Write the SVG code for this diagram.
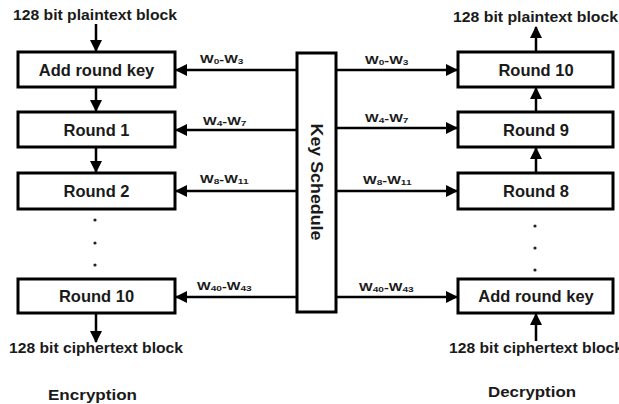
<svg xmlns="http://www.w3.org/2000/svg" width="619" height="404" viewBox="0 0 619 404">
<style>
.box{fill:#fff;stroke:#000;stroke-width:3}
.lbl{font-family:"Liberation Sans",Arial,sans-serif;font-weight:bold;font-size:16.5px;fill:#1a1a1a;text-anchor:middle}
.io{font-family:"Liberation Sans",Arial,sans-serif;font-weight:bold;font-size:15px;fill:#1a1a1a}
.w{font-family:"Liberation Sans",Arial,sans-serif;font-weight:bold;font-size:10px;fill:#1a1a1a}
.s{font-size:7px}
.ln{stroke:#000;stroke-width:2.5;fill:none}
.dot{fill:#222}
</style>
<defs>
<marker id="ah" markerUnits="userSpaceOnUse" markerWidth="12" markerHeight="12" refX="11" refY="6" orient="auto">
<path d="M0,0 L12,6 L0,12 z" fill="#000"/>
</marker>
</defs>
<rect width="619" height="404" fill="#fff"/>

<g id="connectors">
<!-- encryption vertical -->
<line class="ln" x1="96" y1="24" x2="96" y2="51" marker-end="url(#ah)"/>
<line class="ln" x1="96" y1="87" x2="96" y2="111" marker-end="url(#ah)"/>
<line class="ln" x1="96" y1="147" x2="96" y2="172" marker-end="url(#ah)"/>
<line class="ln" x1="96" y1="313" x2="96" y2="342" marker-end="url(#ah)"/>
<!-- decryption vertical -->
<line class="ln" x1="536" y1="52" x2="536" y2="27" marker-end="url(#ah)"/>
<line class="ln" x1="536" y1="112" x2="536" y2="88" marker-end="url(#ah)"/>
<line class="ln" x1="536" y1="173" x2="536" y2="148" marker-end="url(#ah)"/>
<line class="ln" x1="536" y1="341" x2="536" y2="314" marker-end="url(#ah)"/>
<!-- key schedule to encryption -->
<line class="ln" x1="297" y1="70" x2="176" y2="70" marker-end="url(#ah)"/>
<line class="ln" x1="297" y1="130" x2="176" y2="130" marker-end="url(#ah)"/>
<line class="ln" x1="297" y1="191" x2="176" y2="191" marker-end="url(#ah)"/>
<line class="ln" x1="297" y1="297" x2="176" y2="297" marker-end="url(#ah)"/>
<!-- key schedule to decryption -->
<line class="ln" x1="336" y1="70" x2="457" y2="70" marker-end="url(#ah)"/>
<line class="ln" x1="336" y1="128" x2="457" y2="128" marker-end="url(#ah)"/>
<line class="ln" x1="336" y1="191" x2="457" y2="191" marker-end="url(#ah)"/>
<line class="ln" x1="336" y1="297" x2="457" y2="297" marker-end="url(#ah)"/>
<!-- key labels left -->
<text class="w" transform="translate(200,63) scale(1.45,1)">W<tspan class="s" dy="1">0</tspan><tspan dy="-1">-W</tspan><tspan class="s" dy="1">3</tspan></text>
<text class="w" transform="translate(203,125) scale(1.45,1)">W<tspan class="s" dy="1">4</tspan><tspan dy="-1">-W</tspan><tspan class="s" dy="1">7</tspan></text>
<text class="w" transform="translate(200,183) scale(1.45,1)">W<tspan class="s" dy="1">8</tspan><tspan dy="-1">-W</tspan><tspan class="s" dy="1">11</tspan></text>
<text class="w" transform="translate(197,290) scale(1.45,1)">W<tspan class="s" dy="1">40</tspan><tspan dy="-1">-W</tspan><tspan class="s" dy="1">43</tspan></text>
<!-- key labels right -->
<text class="w" transform="translate(365,64) scale(1.45,1)">W<tspan class="s" dy="1">0</tspan><tspan dy="-1">-W</tspan><tspan class="s" dy="1">3</tspan></text>
<text class="w" transform="translate(365,122) scale(1.45,1)">W<tspan class="s" dy="1">4</tspan><tspan dy="-1">-W</tspan><tspan class="s" dy="1">7</tspan></text>
<text class="w" transform="translate(363,184) scale(1.45,1)">W<tspan class="s" dy="1">8</tspan><tspan dy="-1">-W</tspan><tspan class="s" dy="1">11</tspan></text>
<text class="w" transform="translate(359,291) scale(1.45,1)">W<tspan class="s" dy="1">40</tspan><tspan dy="-1">-W</tspan><tspan class="s" dy="1">43</tspan></text>
</g>

<g id="enc-input"><text class="io" x="13" y="20" textLength="164" lengthAdjust="spacingAndGlyphs">128 bit plaintext block</text></g>
<g id="enc-add-round-key"><rect class="box" x="18" y="52" width="157" height="35"/><text class="lbl" x="96.5" y="75.5">Add round key</text></g>
<g id="enc-round1"><rect class="box" x="18" y="112" width="157" height="35"/><text class="lbl" x="96.5" y="135.5">Round 1</text></g>
<g id="enc-round2"><rect class="box" x="18" y="173" width="157" height="36"/><text class="lbl" x="96.5" y="197">Round 2</text></g>
<g id="enc-dots"><circle class="dot" cx="95" cy="220" r="1.6"/><circle class="dot" cx="95" cy="243" r="1.6"/><circle class="dot" cx="95" cy="265" r="1.6"/></g>
<g id="enc-round10"><rect class="box" x="18" y="279" width="157" height="34"/><text class="lbl" x="96.5" y="302">Round 10</text></g>
<g id="enc-output"><text class="io" x="9" y="353" textLength="174" lengthAdjust="spacingAndGlyphs">128 bit ciphertext block</text></g>
<g id="enc-title"><text class="io" x="48" y="400" font-size="16" textLength="89" lengthAdjust="spacingAndGlyphs">Encryption</text></g>

<g id="key-schedule"><rect class="box" x="297" y="53" width="39" height="259"/><text class="lbl" font-size="17.5" transform="translate(317,182) rotate(90)" x="0" y="6" textLength="117" lengthAdjust="spacingAndGlyphs">Key Schedule</text></g>

<g id="dec-output"><text class="io" x="453" y="22" textLength="165" lengthAdjust="spacingAndGlyphs">128 bit plaintext block</text></g>
<g id="dec-round10"><rect class="box" x="458" y="52" width="155" height="35"/><text class="lbl" x="536" y="75.5">Round 10</text></g>
<g id="dec-round9"><rect class="box" x="458" y="112" width="155" height="35"/><text class="lbl" x="536" y="135.5">Round 9</text></g>
<g id="dec-round8"><rect class="box" x="458" y="173" width="155" height="36"/><text class="lbl" x="536" y="197">Round 8</text></g>
<g id="dec-dots"><circle class="dot" cx="535" cy="226" r="1.6"/><circle class="dot" cx="535" cy="248" r="1.6"/><circle class="dot" cx="535" cy="270" r="1.6"/></g>
<g id="dec-add-round-key"><rect class="box" x="458" y="279" width="155" height="34"/><text class="lbl" x="536" y="302">Add round key</text></g>
<g id="dec-input"><text class="io" x="449" y="353" textLength="174" lengthAdjust="spacingAndGlyphs">128 bit ciphertext block</text></g>
<g id="dec-title"><text class="io" x="488" y="397" font-size="16" textLength="88" lengthAdjust="spacingAndGlyphs">Decryption</text></g>
</svg>
